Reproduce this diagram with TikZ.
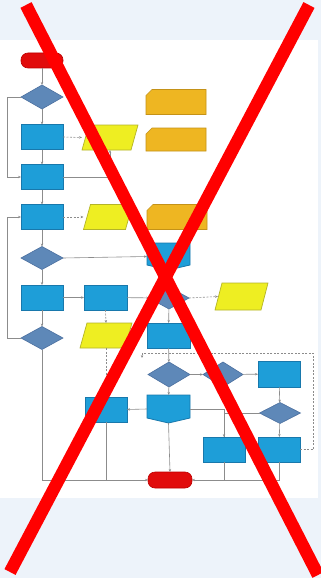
\documentclass[tikz,border=0pt]{standalone}
\usetikzlibrary{shapes.geometric,arrows.meta,calc}
\definecolor{bgc}{RGB}{237,243,250}
\definecolor{bluef}{RGB}{30,158,216}
\definecolor{blued}{RGB}{24,120,172}
\definecolor{diaf}{RGB}{94,136,184}
\definecolor{diad}{RGB}{76,112,160}
\definecolor{yelf}{RGB}{238,238,34}
\definecolor{yeld}{RGB}{180,180,40}
\definecolor{oraf}{RGB}{238,182,34}
\definecolor{orad}{RGB}{196,146,24}
\definecolor{redf}{RGB}{225,12,12}
\definecolor{redd}{RGB}{190,0,0}
\definecolor{linec}{RGB}{140,140,140}
\definecolor{xred}{RGB}{255,0,0}
\tikzset{
  procbox/.style={rectangle, fill=bluef, draw=blued, line width=0.8pt, inner sep=0pt, outer sep=0pt, minimum width=42pt, minimum height=25pt},
  decbox/.style={diamond, fill=diaf, draw=diad, line width=0.6pt, inner sep=0pt, outer sep=0pt, minimum width=42pt, minimum height=24pt},
  termbox/.style={rectangle, rounded corners=7pt, fill=redf, draw=redd, line width=0.6pt, inner sep=0pt, outer sep=0pt, minimum width=42pt, minimum height=15pt},
  holder/.style={rectangle, inner sep=0pt, outer sep=0pt},
  yelshape/.style={fill=yelf, draw=yeld, line width=0.7pt},
  orashape/.style={fill=oraf, draw=orad, line width=0.7pt},
  offshape/.style={fill=bluef, draw=blued, line width=0.8pt},
  flow/.style={draw=linec, line width=0.6pt, -{Stealth[length=3pt,width=2.4pt]}},
  plainflow/.style={draw=linec, line width=0.6pt},
  dataflow/.style={draw=linec, line width=0.6pt, dash pattern=on 2pt off 1.5pt, -{Stealth[length=3pt,width=2.4pt]}}
}
\begin{document}
\begin{tikzpicture}[x=1pt,y=-1pt]
\useasboundingbox (0,0) rectangle (321,578);
\fill[bgc] (0,0) rectangle (321,578);
\fill[white] (0,40) rectangle (318,498);

% left column
\node[termbox] (start) at (42,60.5) {};
\node[decbox] (d1) at (42,97) {};
\node[procbox] (b1) at (42,137) {};
\node[procbox] (b2) at (42,177) {};
\node[procbox] (b3) at (42,217) {};
\node[decbox, minimum height=23pt] (d2) at (42,258) {};
\node[procbox] (b4) at (42,297.5) {};
\node[decbox, minimum height=23pt] (d4) at (42,338) {};

% second column
\node[procbox, minimum width=43pt] (b5) at (105.5,297.5) {};
\node[holder, minimum width=56pt, minimum height=25pt] (y1) at (110,137.5) {};
\node[holder, minimum width=49pt, minimum height=25pt] (y2) at (108,217) {};
\node[holder, minimum width=52pt, minimum height=25pt] (y4) at (106,335.5) {};
\node[procbox] (b8) at (106,409.5) {};

% orange cards
\node[holder, minimum width=60pt, minimum height=25pt] (o1) at (176,102) {};
\node[holder, minimum width=60pt, minimum height=23pt] (o2) at (176,139.5) {};
\node[holder, minimum width=60pt, minimum height=25pt] (o3) at (177,217) {};

% centre column
\node[holder, minimum width=43pt, minimum height=27pt] (c1) at (168.5,256.5) {};
\node[decbox, minimum width=40pt, minimum height=22pt] (d3) at (169,298) {};
\node[holder, minimum width=53pt, minimum height=27pt] (y3) at (241.5,296.5) {};
\node[procbox, minimum width=43pt] (b6) at (168.5,335.5) {};
\node[decbox, minimum height=25pt] (d5) at (169,374.5) {};
\node[decbox, minimum width=40pt, minimum height=25pt] (d6) at (223,374.5) {};
\node[procbox, minimum height=26pt] (b7) at (279,374) {};
\node[decbox, minimum width=41pt, minimum height=21pt] (d7) at (280,413) {};
\node[holder, minimum width=43pt, minimum height=28pt] (c2) at (168.5,409) {};
\node[procbox] (b9) at (224,449.5) {};
\node[procbox] (b10) at (279,449.5) {};
\node[termbox, minimum width=44pt, minimum height=16pt] (end) at (170,480) {};

% custom shapes
\foreach \p in {y1,y2,y3,y4}{
  \filldraw[yelshape] (\p.south west) -- ($(\p.south east)+(-7,0)$) -- (\p.north east) -- ($(\p.north west)+(7,0)$) -- cycle;
}
\foreach \p in {o1,o2,o3}{
  \filldraw[orashape] ($(\p.north west)+(6,0)$) -- (\p.north east) -- (\p.south east) -- (\p.south west) -- ($(\p.north west)+(0,6)$) -- cycle;
}
\foreach \p in {c1,c2}{
  \filldraw[offshape] (\p.north west) -- (\p.north east) -- ($(\p.south east)+(0,-5)$) -- (\p.south) -- ($(\p.south west)+(0,-5)$) -- cycle;
}

% connectors
\draw[flow] (start) -- (d1);
\draw[flow] (d1) -- (b1);
\draw[flow] (b1) -- (b2);
\draw[flow] (b2) -- (b3);
\draw[flow] (b3) -- (d2);
\draw[flow] (d2) -- (b4);
\draw[flow] (b4) -- (d4);
\draw[flow] (d1.west) -- ++(-14,0) |- (b2.west);
\draw[flow] (d4.west) -- ++(-14,0) |- (b3.west);
\draw[dataflow] (b1.east) -- (y1.west);
\draw[flow] (b2.east) -| (y1.south);
\draw[dataflow] (b3.east) -- (y2.west);
\draw[flow] (d2.east) -- (c1.west);
\draw[flow] (b4) -- (b5);
\draw[flow] (b5) -- (d3);
\draw[flow] (c1.south) -- (d3.north);
\draw[dataflow] (d3.east) -- ($(y3.west)+(3,0)$);
\draw[flow] (d3) -- (b6);
\draw[dataflow] (b5.south) -- (y4.north);
\draw[dataflow] (y4.south) -- (b8.north);
\draw[flow] (b6) -- (d5);
\draw[flow] (d5) -- (d6);
\draw[flow] (d6) -- (b7);
\draw[flow] (b7) -- (d7);
\draw[flow] (d7) -- (b10);
\draw[flow] (d7.west) -| (b9.north);
\draw[flow] (d5) -- (c2);
\draw[flow] (c2.west) -- (b8.east);
\draw[plainflow] (c2.east) -| (b9.north);
\draw[flow] (c2.south) -- (end.north);
\draw[flow] (d4.south) |- (end.west);
\draw[plainflow] (b8.south) -- (b8.south |- end.west);
\draw[flow] (b10.south) |- (end.east);
\draw[plainflow] (b9.south) -- (b9.south |- end.east);
\coordinate (loopc) at (313,353);
\coordinate (loopend) at (142,358);
\draw[dataflow] (b10.east) -| (loopc) -| (loopend);

% red cross
\draw[xred, line width=12.5pt] (26,5) -- (318,575);
\draw[xred, line width=12.5pt] (309,5) -- (10,572);
\end{tikzpicture}
\end{document}
